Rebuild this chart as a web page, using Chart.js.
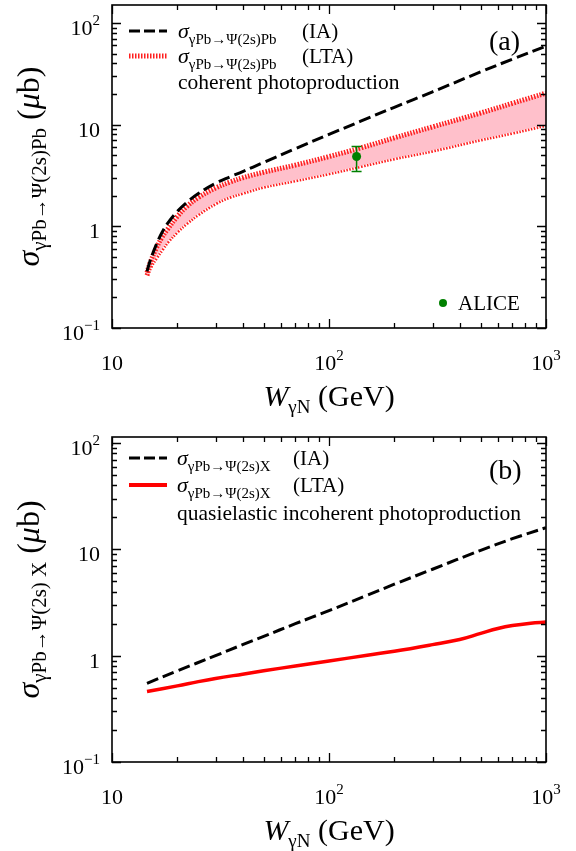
<!DOCTYPE html>
<html>
<head>
<meta charset="utf-8">
<script src="https://cdn.jsdelivr.net/npm/chart.js@4/dist/chart.umd.min.js"></script>
<style>
html, body { margin: 0; padding: 0; background: #fff; }
canvas { display: block; }
</style>
</head>
<body>
<canvas id="chartA" width="576" height="425"></canvas>
<canvas id="chartB" width="576" height="426"></canvas>
<script>
// ---- panel (a): coherent photoproduction ----
const wA       = [14.5, 15, 16, 17, 18, 20, 22, 25, 30, 35, 40, 50, 70, 100, 140, 200, 300, 500, 700, 1000];
const iaA      = [0.36, 0.46, 0.66, 0.87, 1.06, 1.40, 1.70, 2.10, 2.65, 3.07, 3.45, 4.25, 5.8, 8.0, 10.8, 14.8, 21, 33, 44, 59];
const ltaUpA   = [0.35, 0.44, 0.61, 0.78, 0.93, 1.25, 1.55, 1.92, 2.38, 2.72, 3.0, 3.4, 4.0, 4.85, 5.9, 7.4, 9.5, 13.0, 16.2, 20.4];
const ltaLowA  = [0.33, 0.40, 0.50, 0.60, 0.71, 0.90, 1.08, 1.33, 1.70, 1.97, 2.15, 2.47, 2.86, 3.35, 3.95, 4.7, 5.6, 7.2, 8.4, 10.0];
const aliceW   = [134];
const aliceVal = [4.86];
const aliceLo  = [3.45];
const aliceHi  = [6.1];

// ---- panel (b): quasielastic incoherent photoproduction ----
const wB     = [14.5, 20, 30, 40, 50, 70, 100, 150, 200, 300, 500, 700, 1000];
const iaB    = [0.55, 0.72, 1.0, 1.27, 1.52, 2.0, 2.65, 3.7, 4.7, 6.5, 9.8, 12.6, 16];
const wB2    = [14.5, 20, 25, 30, 40, 50, 70, 100, 150, 200, 300, 400, 500, 600, 700, 850, 1000];
const ltaB   = [0.46, 0.52, 0.57, 0.61, 0.67, 0.72, 0.80, 0.89, 1.01, 1.10, 1.27, 1.42, 1.62, 1.80, 1.92, 2.02, 2.07];

// ---- axes ----
const xTicks = [10, 100, 1000];
const xTickText = [['10', ''], ['10', '2'], ['10', '3']];
const yTicks = [0.1, 1, 10, 100];
const yTickText = [['10', '\u22121'], ['1', ''], ['10', ''], ['10', '2']];

const FONT = "'Liberation Serif', 'Times New Roman', serif";

function pts(xs, ys) { return xs.map((x, i) => ({ x: x, y: ys[i] })); }

// parts: [text, size, italic, dy]
function partsWidth(ctx, parts) {
  let w = 0;
  parts.forEach(p => { ctx.font = (p[2] ? 'italic ' : '') + p[1] + 'px ' + FONT; w += ctx.measureText(p[0]).width; });
  return w;
}
function drawParts(ctx, x, y, parts, align) {
  const w = partsWidth(ctx, parts);
  let cx = align === 'center' ? x - w / 2 : align === 'right' ? x - w : x;
  parts.forEach(p => {
    ctx.font = (p[2] ? 'italic ' : '') + p[1] + 'px ' + FONT;
    ctx.fillText(p[0], cx, y + (p[3] || 0));
    cx += ctx.measureText(p[0]).width;
  });
}

function decorPlugin(cfg) {
  return {
    id: 'decor',
    afterDatasetsDraw(chart) {
      const ctx = chart.ctx, sx = chart.scales.x, sy = chart.scales.y;
      ctx.save();
      // data points with error bars
      (cfg.errors || []).forEach(e => {
        e.w.forEach((w, i) => {
          const px = sx.getPixelForValue(w), p0 = sy.getPixelForValue(e.v[i]);
          const p1 = sy.getPixelForValue(e.lo[i]), p2 = sy.getPixelForValue(e.hi[i]);
          ctx.strokeStyle = e.color; ctx.lineWidth = 1.5;
          ctx.beginPath();
          ctx.moveTo(px, p1); ctx.lineTo(px, p2);
          ctx.moveTo(px - 5, p1); ctx.lineTo(px + 5, p1);
          ctx.moveTo(px - 5, p2); ctx.lineTo(px + 5, p2);
          ctx.stroke();
          ctx.fillStyle = e.color;
          ctx.beginPath();
          ctx.arc(px, p0, 4.5, 0, Math.PI * 2);
          ctx.fill();
        });
      });
      ctx.restore();
    },
    afterDraw(chart) {
      const ctx = chart.ctx, a = chart.chartArea, sx = chart.scales.x, sy = chart.scales.y;
      ctx.save();
      ctx.fillStyle = '#000';
      ctx.strokeStyle = '#000';
      ctx.setLineDash([]);
      // frame
      ctx.lineWidth = 1.6;
      ctx.strokeRect(a.left, a.top, a.right - a.left, a.bottom - a.top);
      // inner ticks on all four sides
      ctx.lineWidth = 1.3;
      ctx.beginPath();
      for (let d = 1; d <= 3; d++) {
        for (let k = 1; k <= 9; k++) {
          const v = k * Math.pow(10, d);
          if (v < sx.min || v > sx.max) continue;
          const px = Math.round(sx.getPixelForValue(v)) + 0.5, len = k === 1 ? 9 : 5;
          ctx.moveTo(px, a.bottom); ctx.lineTo(px, a.bottom - len);
          ctx.moveTo(px, a.top); ctx.lineTo(px, a.top + len);
        }
      }
      for (let d = -1; d <= 2; d++) {
        for (let k = 1; k <= 9; k++) {
          const v = k * Math.pow(10, d);
          if (v < sy.min * 0.999 || v > sy.max) continue;
          const py = Math.round(sy.getPixelForValue(v)) + 0.5, len = k === 1 ? 9 : 5;
          ctx.moveTo(a.left, py); ctx.lineTo(a.left + len, py);
          ctx.moveTo(a.right, py); ctx.lineTo(a.right - len, py);
        }
      }
      ctx.stroke();
      // tick labels
      ctx.textBaseline = 'alphabetic';
      xTicks.forEach((v, i) => {
        const t = xTickText[i];
        drawParts(ctx, sx.getPixelForValue(v), a.bottom + 42, [[t[0], 22, false, 0], [t[1], 15, false, -10]], 'center');
      });
      yTicks.forEach((v, i) => {
        const t = yTickText[i];
        drawParts(ctx, 100, sy.getPixelForValue(v) + 12, [[t[0], 22, false, 0], [t[1], 15, false, -10]], 'right');
      });
      // x title
      drawParts(ctx, (a.left + a.right) / 2, a.bottom + 78,
        [['W', 30, true, 0], ['\u03b3N', 19, false, 7], [' (GeV)', 30, false, 0]], 'center');
      // y title (rotated)
      ctx.save();
      ctx.translate(39, (a.top + a.bottom) / 2);
      ctx.rotate(-Math.PI / 2);
      drawParts(ctx, 0, 0, cfg.yTitle, 'center');
      ctx.restore();
      // panel label
      ctx.font = '28px ' + FONT;
      ctx.textAlign = 'left';
      ctx.fillText(cfg.label, 489, cfg.labelY);
      // legend
      cfg.legend.forEach(L => {
        if (L.line) {
          ctx.save();
          ctx.strokeStyle = L.line.color;
          ctx.lineWidth = L.line.width;
          ctx.setLineDash(L.line.dash || []);
          ctx.beginPath();
          ctx.moveTo(129, L.y); ctx.lineTo(167, L.y);
          ctx.stroke();
          ctx.restore();
        }
        if (L.dot) {
          ctx.fillStyle = L.dot;
          ctx.beginPath();
          ctx.arc(L.x - 15, L.y, 4, 0, Math.PI * 2);
          ctx.fill();
          ctx.fillStyle = '#000';
        }
        drawParts(ctx, L.x, L.y + 7, L.parts, 'left');
        if (L.tag) drawParts(ctx, L.tagX, L.y + 7, [[L.tag, 21, false, 0]], 'left');
      });
      ctx.restore();
    }
  };
}

function makeOptions(top, axisH, ymax) {
  return {
    responsive: false,
    animation: false,
    layout: { padding: { top: top, right: 30, left: 0, bottom: 0 } },
    plugins: { legend: { display: false }, tooltip: { enabled: false } },
    elements: { point: { radius: 0 } },
    scales: {
      x: {
        type: 'logarithmic', min: 10, max: 1000,
        grid: { display: false, drawTicks: false }, border: { display: false },
        ticks: { display: false },
        afterFit: s => { s.height = axisH; }
      },
      y: {
        type: 'logarithmic', min: 0.1, max: ymax,
        grid: { display: false, drawTicks: false }, border: { display: false },
        ticks: { display: false },
        afterFit: s => { s.width = 112; }
      }
    }
  };
}

const sub = 15;
new Chart(document.getElementById('chartA'), {
  type: 'line',
  data: {
    datasets: [
      { data: pts(wA, iaA), borderColor: '#000', borderWidth: 3, borderDash: [12, 5], fill: false, tension: 0.4 },
      { data: pts(wA, ltaUpA), borderColor: 'rgb(255,30,30)', borderWidth: 5, borderDash: [1.5, 1.5], fill: '+1', backgroundColor: '#ffc0cb', tension: 0.4 },
      { data: pts(wA, ltaLowA), borderColor: 'rgb(255,30,30)', borderWidth: 5, borderDash: [1.5, 1.5], fill: false, tension: 0.4 }
    ]
  },
  options: makeOptions(5, 97, 150),
  plugins: [decorPlugin({
    label: '(a)', labelY: 50,
    errors: [{ w: aliceW, v: aliceVal, lo: aliceLo, hi: aliceHi, color: '#008000' }],
    yTitle: [['\u03c3', 32, true, 0], ['\u03b3Pb\u2192\u03a8(2s)Pb', 21, false, 7], [' (', 32, false, 0], ['\u03bc', 32, true, 0], ['b)', 32, false, 0]],
    legend: [
      { y: 31, x: 178, line: { color: '#000', width: 3, dash: [11, 4] }, parts: [['\u03c3', 22, true, 0], ['\u03b3Pb\u2192\u03a8(2s)Pb', sub, false, 6]], tag: '(IA)', tagX: 302 },
      { y: 56, x: 178, line: { color: 'rgb(255,30,30)', width: 5, dash: [1.5, 1.5] }, parts: [['\u03c3', 22, true, 0], ['\u03b3Pb\u2192\u03a8(2s)Pb', sub, false, 6]], tag: '(LTA)', tagX: 302 },
      { y: 82, x: 178, parts: [['coherent photoproduction', 21.5, false, 0]] },
      { y: 303, x: 458, dot: '#008000', parts: [['ALICE', 21, false, 0]] }
    ]
  })]
});

new Chart(document.getElementById('chartB'), {
  type: 'line',
  data: {
    datasets: [
      { data: pts(wB, iaB), borderColor: '#000', borderWidth: 3, borderDash: [12, 5], fill: false, tension: 0.4 },
      { data: pts(wB2, ltaB), borderColor: '#ff0000', borderWidth: 3.5, fill: false, tension: 0.4 }
    ]
  },
  options: makeOptions(12, 89, 114),
  plugins: [decorPlugin({
    label: '(b)', labelY: 54,
    yTitle: [['\u03c3', 32, true, 0], ['\u03b3Pb\u2192\u03a8(2s) X', 21, false, 7], [' (', 32, false, 0], ['\u03bc', 32, true, 0], ['b)', 32, false, 0]],
    legend: [
      { y: 33, x: 177, line: { color: '#000', width: 3, dash: [11, 4] }, parts: [['\u03c3', 22, true, 0], ['\u03b3Pb\u2192\u03a8(2s)X', sub, false, 6]], tag: '(IA)', tagX: 293 },
      { y: 60, x: 177, line: { color: '#ff0000', width: 4 }, parts: [['\u03c3', 22, true, 0], ['\u03b3Pb\u2192\u03a8(2s)X', sub, false, 6]], tag: '(LTA)', tagX: 293 },
      { y: 88, x: 177, parts: [['quasielastic incoherent photoproduction', 21.5, false, 0]] }
    ]
  })]
});
</script>
</body>
</html>
